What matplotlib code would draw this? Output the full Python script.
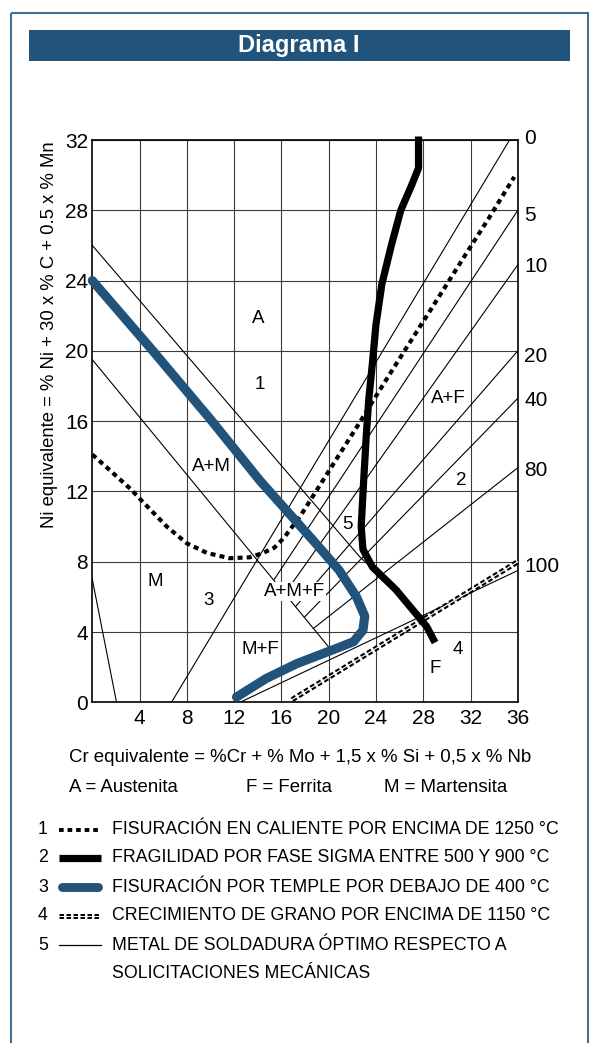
import numpy as np
import matplotlib.pyplot as plt
from matplotlib.patches import Rectangle

plt.rcParams['font.family'] = ['Liberation Sans', 'DejaVu Sans']

W, H, DPI = 592, 1043, 100

# ---- datos (Cr equivalente, Ni equivalente) ----
x_ticks = [4, 8, 12, 16, 20, 24, 28, 32, 36]
y_ticks = [0, 4, 8, 12, 16, 20, 24, 28, 32]

# lineas de % ferrita
ferrite_pct = ['0', '5', '10', '20', '40', '80', '100']
ferrite_x0 = [6.7, 15.4, 16.3, 17.2, 17.95, 18.7, 12.5]
ferrite_y0 = [0.0, 7.0, 6.2, 5.45, 4.85, 4.2, 0.0]
ferrite_x1 = [35.3, 36, 36, 36, 36, 36, 36]
ferrite_y1 = [32, 28, 24.9, 20, 17.3, 13.35, 7.5]
ferrite_label_y = [32.1, 27.7, 24.8, 19.7, 17.2, 13.2, 7.7]

# limites de fase descendentes
bound1_x = [0, 22.6, 28.0]
bound1_y = [26.0, 8.3, 4.85]
bound2_x = [0, 20.3]
bound2_y = [19.5, 2.9]
bound3_x = [0, 2.05]
bound3_y = [7.0, 0]

# 1 fisuracion en caliente
hot_x = [0.0, 1.5, 3.3, 4.0, 6.3, 8.0, 9.7, 11.6, 13.3, 14.45, 15.4, 16.2, 17.6,
         19.25, 20.9, 22.6, 24.3, 26.6, 28.5, 31.6, 33.5, 35.7]
hot_y = [14.1, 13.2, 12.1, 11.6, 10.0, 9.05, 8.5, 8.2, 8.25, 8.5, 8.8, 9.35, 10.6,
         12.35, 14.1, 15.9, 17.75, 20.2, 22.2, 25.5, 27.5, 29.9]

# 2 fragilidad fase sigma
sigma_x = [27.6, 27.6, 27.0, 26.1, 25.3, 24.5, 24.0, 23.7, 23.4, 23.2, 22.95,
           22.75, 22.9, 23.7, 25.7, 28.3, 29.0]
sigma_y = [32.2, 30.4, 29.4, 28.0, 26.0, 23.8, 21.5, 19.3, 17.3, 15.4, 12.5,
           10.0, 8.7, 7.7, 6.4, 4.3, 3.4]

# 3 fisuracion por temple
temple_x = [0.0, 5.0, 10.0, 14.2, 18.7, 20.9, 22.35, 23.05, 22.9, 22.1, 20.4,
            17.3, 14.7, 12.2]
temple_y = [24.0, 20.1, 16.1, 12.6, 9.2, 7.5, 6.0, 4.9, 4.1, 3.45, 3.0,
            2.2, 1.35, 0.3]

# 4 crecimiento de grano
grain_x = [16.9, 36.0]
grain_y = [0.15, 8.0]

region_txt = ['A', '1', 'A+F', 'A+M', '2', '5', 'M', '3', 'A+M+F', 'M+F', '4', 'F']
region_x = [14.0, 14.2, 30.1, 10.1, 31.2, 21.55, 5.3, 9.87, 17.1, 14.2, 30.9, 29.05]
region_y = [21.85, 18.06, 17.3, 13.4, 12.65, 10.1, 6.9, 5.78, 6.3, 3.0, 3.0, 1.93]

legend_num = ['1', '2', '3', '4', '5']
legend_txt = ['FISURACIÓN EN CALIENTE POR ENCIMA DE 1250 °C',
              'FRAGILIDAD POR FASE SIGMA ENTRE 500 Y 900 °C',
              'FISURACIÓN POR TEMPLE POR DEBAJO DE 400 °C',
              'CRECIMIENTO DE GRANO POR ENCIMA DE 1150 °C',
              'METAL DE SOLDADURA ÓPTIMO RESPECTO A']

BLUE = '#22537a'

fig = plt.figure(figsize=(W / DPI, H / DPI), dpi=DPI)

# capa de fondo en pixeles: marco, titulo, leyenda
bg = fig.add_axes([0, 0, 1, 1])
bg.set_xlim(0, W)
bg.set_ylim(H, 0)
bg.axis('off')
bg.add_patch(Rectangle((11, 13), 577, 1050, fill=False, ec='#3f6f96', lw=1.5, clip_on=False))
bg.add_patch(Rectangle((29, 30), 541, 31, fc=BLUE, ec='none'))
bg.text(299, 45.5, 'Diagrama I', color='white', fontsize=17, fontweight='bold',
        ha='center', va='center')

bg.text(50, 335, 'Ni equivalente = % Ni + 30 x % C + 0.5 x % Mn', rotation=90,
        fontsize=13.3, ha='center', va='center')
bg.text(69, 758, 'Cr equivalente = %Cr + % Mo + 1,5 x % Si + 0,5 x % Nb',
        fontsize=13.4, ha='left', va='center')
bg.text(69, 787, 'A = Austenita', fontsize=13.4, ha='left', va='center')
bg.text(246, 787, 'F = Ferrita', fontsize=13.4, ha='left', va='center')
bg.text(384, 787, 'M = Martensita', fontsize=13.4, ha='left', va='center')

row_y = [830, 858, 887, 916, 945]
for i in range(5):
    bg.text(43, row_y[i], legend_num[i], fontsize=12.8, ha='center', va='center')
    bg.text(112, row_y[i], legend_txt[i], fontsize=12.8, ha='left', va='center')
bg.text(112, 974, 'SOLICITACIONES MECÁNICAS', fontsize=12.8, ha='left', va='center')

sx = [59, 101]
bg.plot(sx, [row_y[0]] * 2, color='black', lw=2.8, ls=(0, (1.2, 1.0)), solid_capstyle='butt',
        dash_capstyle='butt')
bg.plot(sx, [row_y[1]] * 2, color='black', lw=5.2, solid_capstyle='butt')
bg.plot([62, 98], [row_y[2]] * 2, color=BLUE, lw=6.4, solid_capstyle='round')
bg.plot(sx, [row_y[3]] * 2, color='black', lw=3.6, ls=(0, (0.9, 0.5)), dash_capstyle='butt')
bg.plot(sx, [row_y[3]] * 2, color='white', lw=0.7)
bg.plot(sx, [row_y[4]] * 2, color='black', lw=0.9)

# diagrama
ax = fig.add_axes([92.3 / W, 1 - 702.3 / H, 425.5 / W, 562.3 / H])
ax.set_xlim(0, 36)
ax.set_ylim(0, 32)
ax.set_xticks(x_ticks)
ax.set_yticks(y_ticks)
ax.grid(True, color='#3a3a3a', lw=0.8)
ax.set_axisbelow(True)
ax.tick_params(length=0, labelsize=15)
ax.tick_params(axis='x', pad=5)
ax.tick_params(axis='y', pad=3)
for s in ax.spines.values():
    s.set_linewidth(1.2)

for i in range(len(ferrite_pct)):
    ax.plot([ferrite_x0[i], ferrite_x1[i]], [ferrite_y0[i], ferrite_y1[i]],
            color='black', lw=0.8, zorder=2)
    ax.annotate(ferrite_pct[i], (36, ferrite_label_y[i]), xytext=(4.5, 0),
                textcoords='offset points', fontsize=15, ha='left', va='center',
                annotation_clip=False)

for bx, by in [(bound1_x, bound1_y), (bound2_x, bound2_y), (bound3_x, bound3_y)]:
    ax.plot(bx, by, color='black', lw=0.8, zorder=2)

for t, x, y in zip(region_txt, region_x, region_y):
    ax.text(x, y, t, fontsize=13.5, ha='center', va='center', zorder=3,
            bbox=dict(boxstyle='square,pad=0.05', fc='white', ec='none'))

ax.plot(grain_x, grain_y, color='black', lw=3.8, ls=(0, (0.9, 0.5)),
        dash_capstyle='butt', zorder=4)
ax.plot(grain_x, grain_y, color='white', lw=0.8, zorder=4)

ax.plot(hot_x, hot_y, color='black', lw=3.0, ls=(0, (1.2, 1.0)),
        dash_capstyle='butt', zorder=4, clip_on=False)
ax.plot(sigma_x, sigma_y, color='black', lw=5.2, solid_capstyle='butt',
        solid_joinstyle='round', zorder=5, clip_on=False)
ax.plot(temple_x, temple_y, color=BLUE, lw=6.6, solid_capstyle='round',
        solid_joinstyle='round', zorder=6, clip_on=False)

fig.savefig('out.png', dpi=DPI)
